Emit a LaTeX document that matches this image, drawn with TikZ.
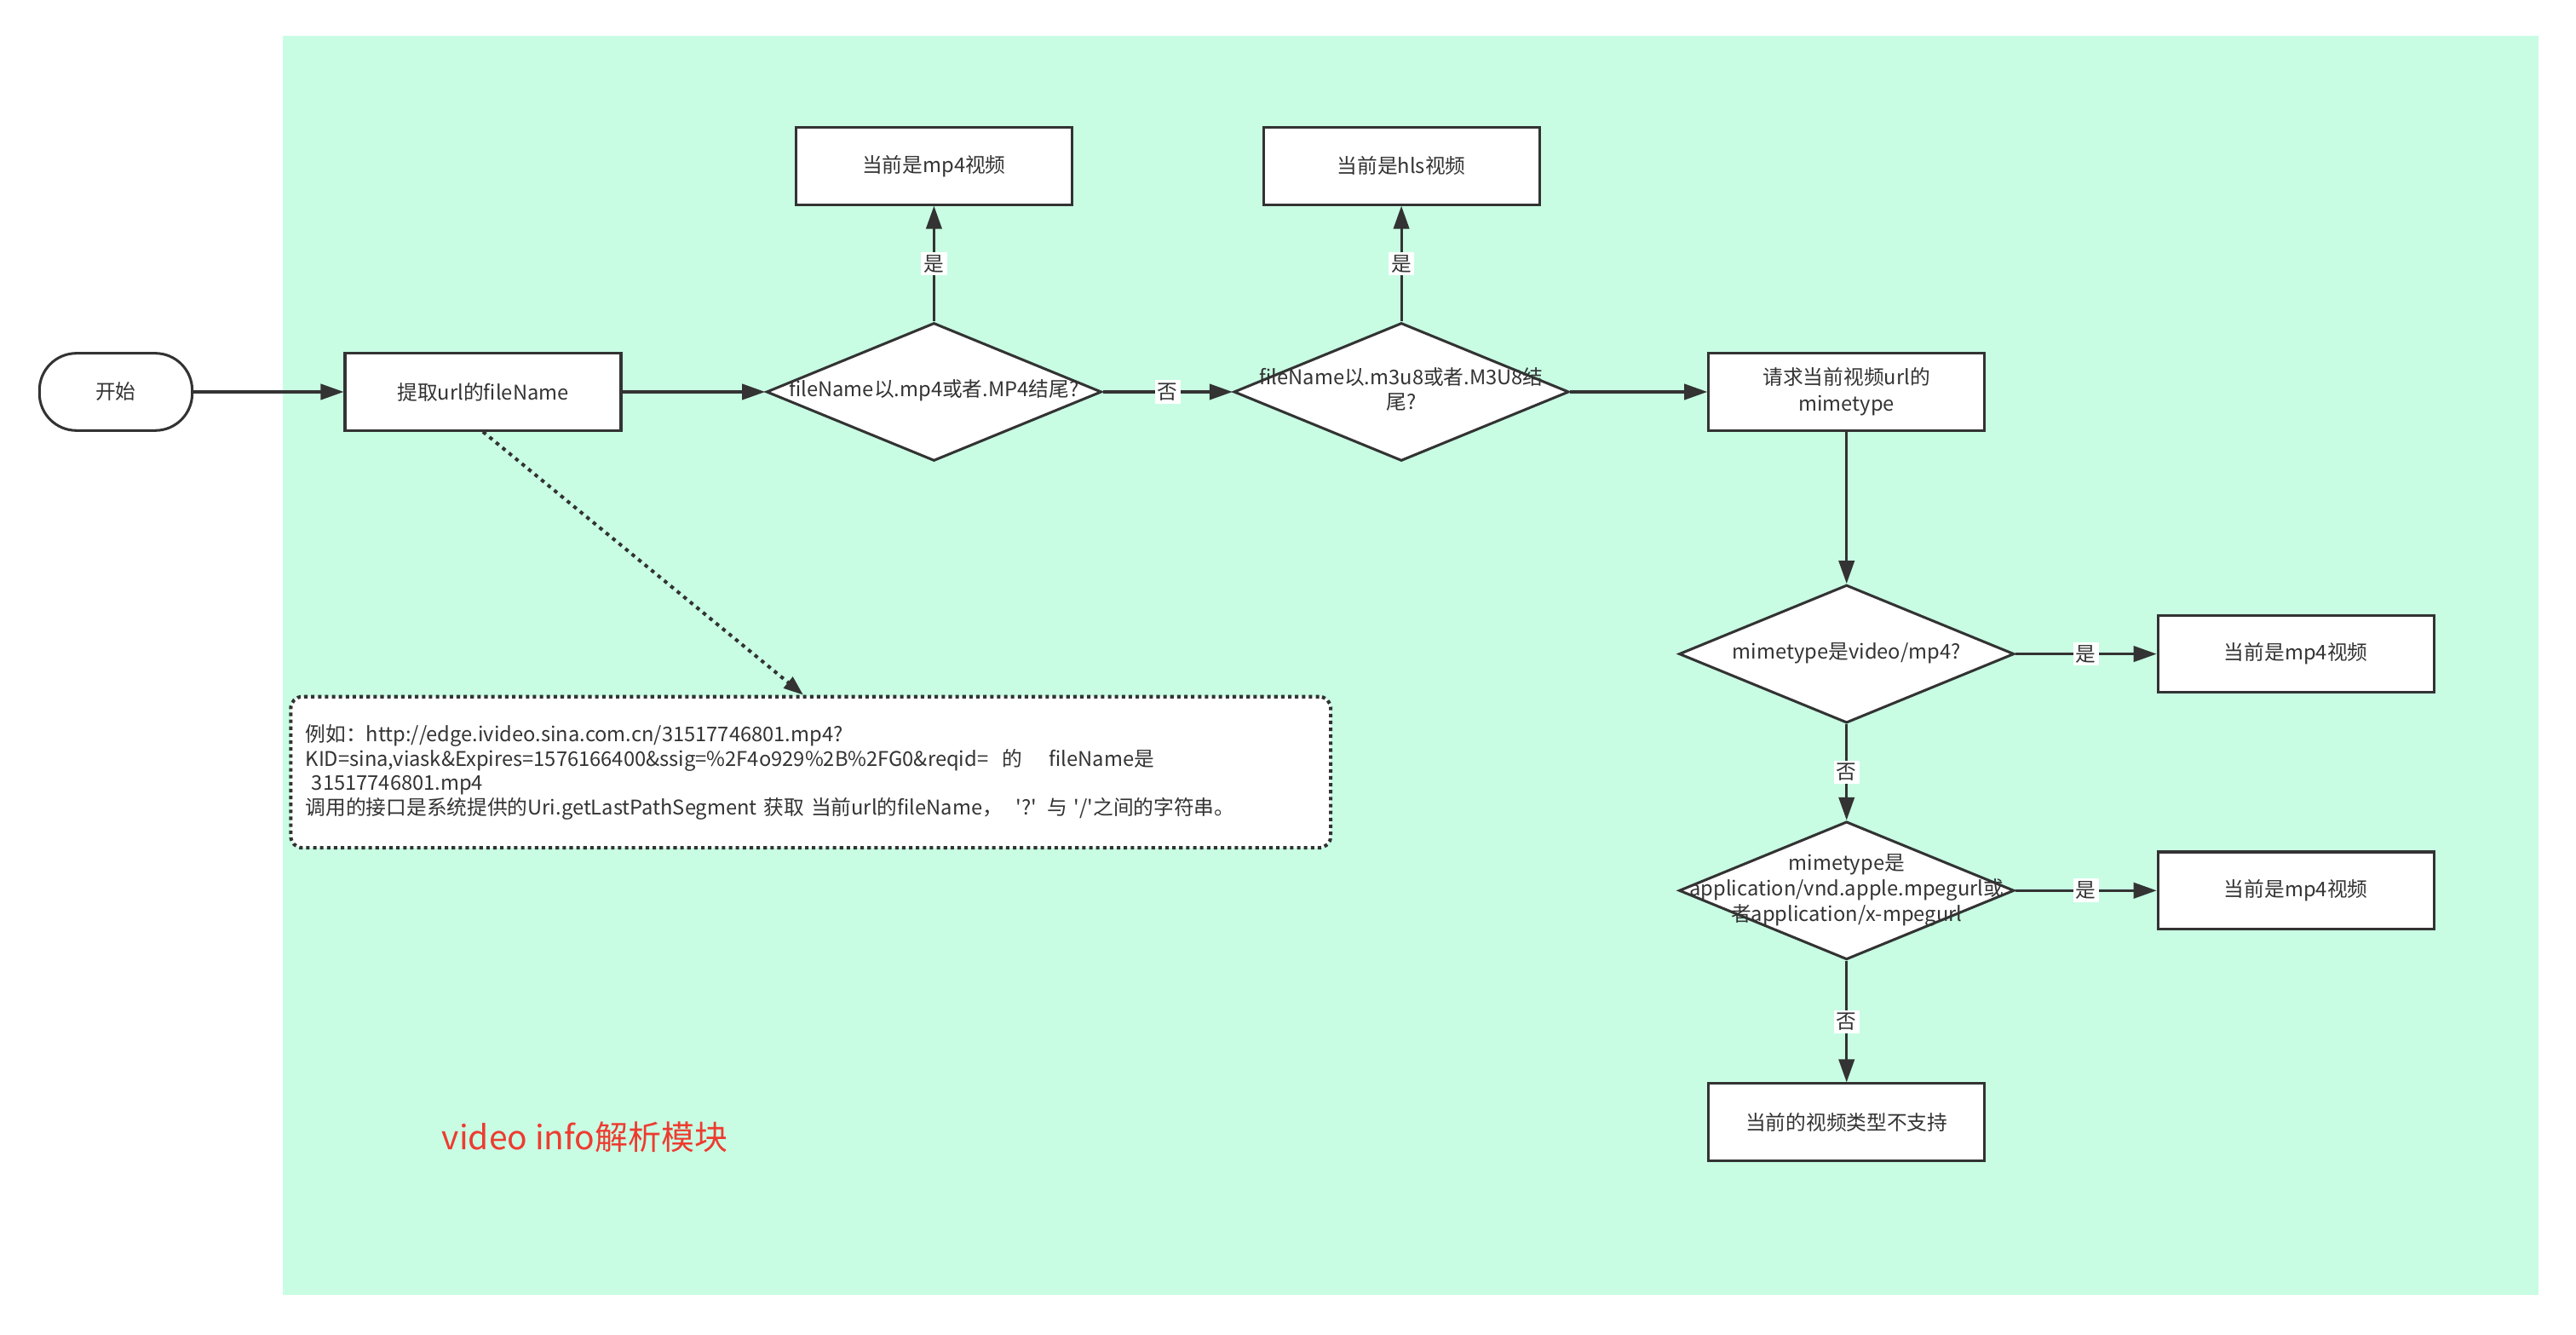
\documentclass[tikz,border=0pt]{standalone}
\usepackage{fontspec}
\setmainfont{Noto Sans CJK SC}[Ligatures=TeXOff]
\usetikzlibrary{shapes,arrows.meta,positioning,calc}
\definecolor{bgGreen}{HTML}{C8FDE4}
\definecolor{lineGray}{HTML}{333333}
\definecolor{titleRed}{HTML}{EE3B30}
\tikzstyle{block} = [rectangle, draw=lineGray, fill=white, line width=0.9pt,
   minimum width=3.36cm, minimum height=0.94cm, text centered,
   font=\fontsize{7}{9}\selectfont, text=lineGray]
\tikzstyle{terminal} = [block, rounded corners=0.45cm, minimum width=1.86cm]
\tikzstyle{decision} = [diamond, draw=lineGray, fill=white, line width=0.9pt,
   minimum width=4.08cm, minimum height=1.68cm, aspect=2.43, inner sep=0pt,
   font=\fontsize{7}{8.8}\selectfont, text=lineGray]
\tikzstyle{note} = [rectangle, draw=lineGray, fill=white, line width=1.2pt,
   dash pattern=on 1.2pt off 1.2pt, rounded corners=4pt,
   minimum width=12.66cm, minimum height=1.84cm, text width=12.3cm, inner xsep=0.18cm,
   align=left, font=\fontsize{7}{8.5}\selectfont, text=lineGray]
\tikzstyle{line} = [draw=lineGray, line width=0.9pt, -{Triangle[length=0.28cm,width=0.19cm]}]
\tikzstyle{dotline} = [draw=lineGray, line width=1.2pt, dash pattern=on 1.3pt off 1.6pt,
   -{Triangle[length=0.24cm,width=0.17cm]}]
\tikzstyle{lbl} = [fill=white, inner sep=1pt, font=\fontsize{7}{9}\selectfont, text=lineGray]
\newcommand{\dtext}[1]{\makebox[0pt]{\begin{tabular}{@{}c@{}}#1\end{tabular}}}

\begin{document}
\begin{tikzpicture}[node distance = 2cm]
\useasboundingbox (0,0) rectangle (31.36,-16.24);
% module area
\fill [bgGreen] (3.44,-0.44) rectangle (30.9,-15.76);
% Place nodes
\node [terminal] (start) at (1.41,-4.77) {开始};
\node [block, right of=start, node distance=4.47cm] (getName) {提取url的fileName};
\node [decision, right of=getName, node distance=5.49cm] (isMp4) {\dtext{fileName以.mp4或者.MP4结尾?}};
\node [block, above of=isMp4, node distance=2.75cm] (mp4Top) {当前是mp4视频};
\node [decision, right of=isMp4, node distance=5.69cm] (isHls) {\dtext{fileName以.m3u8或者.M3U8结\\尾?}};
\node [block, above of=isHls, node distance=2.75cm] (hlsTop) {当前是hls视频};
\node [block, right of=isHls, node distance=5.42cm, align=center] (reqMime) {请求当前视频url的\\mimetype};
\node [decision, below of=reqMime, node distance=3.19cm] (mimeMp4) {\dtext{mimetype是video/mp4?}};
\node [block, right of=mimeMp4, node distance=5.47cm] (mp4Right) {当前是mp4视频};
\node [decision, below of=mimeMp4, node distance=2.88cm] (mimeHls) {\dtext{mimetype是\\application/vnd.apple.mpegurl或\\者application/x-mpegurl}};
\node [block, right of=mimeHls, node distance=5.47cm] (mp4Right2) {当前是mp4视频};
\node [block, below of=mimeHls, node distance=2.82cm] (unsupported) {当前的视频类型不支持};
\node [note] (example) at (9.87,-9.40) {例如：http://edge.ivideo.sina.com.cn/31517746801.mp4?\\
KID=sina,viask\&Expires=1576166400\&ssig=\%2F4o929\%2B\%2FG0\&reqid=\ \ 的\ \ \ \ fileName是\\
\hspace*{0.3em}31517746801.mp4\\
调用的接口是系统提供的Uri.getLastPathSegment 获取 当前url的fileName，\ \ '?' 与 '/'之间的字符串。};
\coordinate (exampleIn) at ([xshift=6.26cm]example.north west);
\node [text=titleRed, font=\fontsize{11.5}{13}\selectfont] (modTitle) at (7.12,-13.84) {video info解析模块};
% Draw edges
\path [line] (start) -- (getName);
\path [line] (getName) -- (isMp4);
\path [line] (isMp4) -- node [lbl] {是} (mp4Top);
\path [line] (isMp4) -- node [lbl] {否} (isHls);
\path [line] (isHls) -- node [lbl] {是} (hlsTop);
\path [line] (isHls) -- (reqMime);
\path [line] (reqMime) -- (mimeMp4);
\path [line] (mimeMp4) -- node [lbl] {是} (mp4Right);
\path [line] (mimeMp4) -- node [lbl] {否} (mimeHls);
\path [line] (mimeHls) -- node [lbl] {是} (mp4Right2);
\path [line] (mimeHls) -- node [lbl] {否} (unsupported);
\path [dotline] (getName.south) -- (exampleIn);
\end{tikzpicture}
\end{document}
